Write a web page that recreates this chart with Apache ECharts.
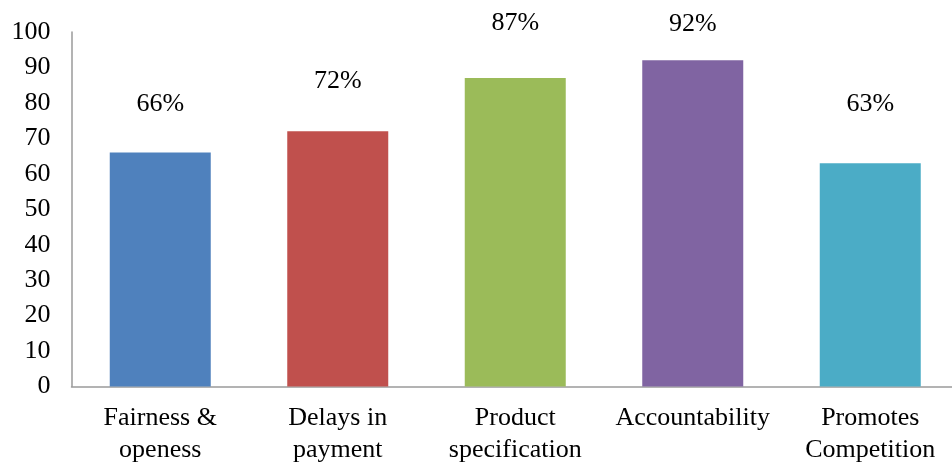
<!DOCTYPE html>
<html>
<head>
<meta charset="utf-8">
<script src="https://cdn.jsdelivr.net/npm/echarts@6/dist/echarts.min.js"></script>
<style>
  html, body { margin: 0; padding: 0; background: #fff; }
  #chart { width: 952px; height: 464px; }
</style>
</head>
<body>
<div id="chart"></div>
<script>
// Survey responses per procurement aspect (percent)
const categories = ['Fairness &\nopeness', 'Delays in\npayment', 'Product\nspecification', 'Accountability', 'Promotes\nCompetition'];
const values = [66, 72, 87, 92, 63];
const yTicks = [0, 10, 20, 30, 40, 50, 60, 70, 80, 90, 100];

const barColors = ['#4F81BD', '#C0504D', '#9BBB59', '#8064A2', '#4BACC6'];
// gap between each bar top and its percentage label
const labelGaps = [35, 37, 42, 23, 46];

const font = 'Liberation Serif, Times New Roman, serif';

const chart = echarts.init(document.getElementById('chart'));
chart.setOption({
  animation: false,
  grid: {
    left: 71.5, right: -7, top: 32, bottom: 77.5,
    containLabel: false, outerBoundsMode: 'none'
  },
  xAxis: {
    type: 'category',
    data: categories,
    axisLine: { lineStyle: { color: '#9a9a9a', width: 1.5 } },
    axisTick: { show: false },
    axisLabel: {
      color: '#000', fontFamily: font, fontSize: 26, lineHeight: 32,
      margin: 16, interval: 0
    }
  },
  yAxis: {
    type: 'value',
    min: yTicks[0],
    max: yTicks[yTicks.length - 1],
    interval: 10,
    axisLine: { show: true, lineStyle: { color: '#9a9a9a', width: 1.5 } },
    axisTick: { show: false },
    splitLine: { show: false },
    axisLabel: { color: '#000', fontFamily: font, fontSize: 26, margin: 21 }
  },
  series: [{
    type: 'bar',
    barWidth: 101,
    data: values.map((v, i) => ({
      value: v,
      itemStyle: { color: barColors[i] },
      label: { distance: labelGaps[i] }
    })),
    label: {
      show: true,
      position: 'top',
      color: '#000',
      fontFamily: font,
      fontSize: 26,
      formatter: p => p.value + '%'
    }
  }]
});
</script>
</body>
</html>
